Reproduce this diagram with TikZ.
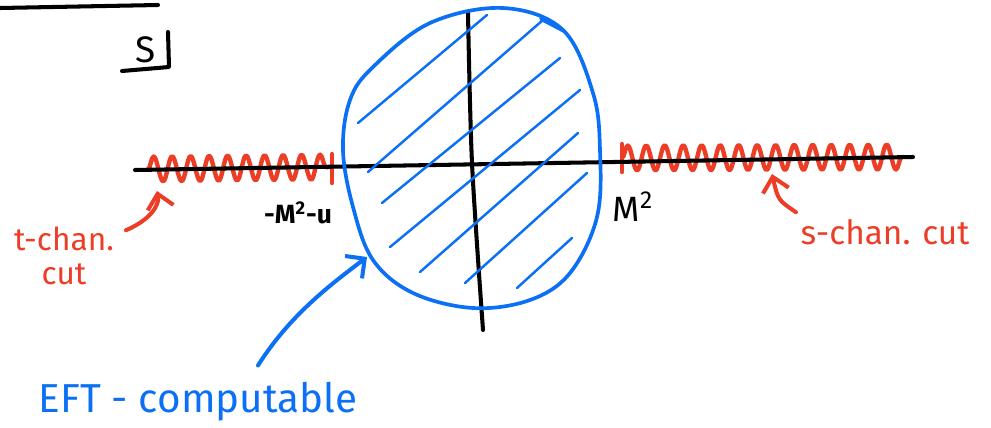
\documentclass[tikz,border=0pt]{standalone}
\usepackage{fontspec}
\setmainfont{Fira Sans}
\usetikzlibrary{arrows.meta,decorations.pathmorphing}
\definecolor{cutred}{RGB}{236,62,38}
\definecolor{eftblue}{RGB}{12,112,244}
\tikzset{
    axis/.style={line width=2.3pt, line cap=round},
    cutwave/.style={cutred, line width=2.5pt, decorate,
        decoration={snake, segment length=0.37cm, amplitude=0.25cm}},
    blob/.style={eftblue, line width=2.1pt},
    hatch/.style={eftblue, line width=1.4pt, line cap=round},
    redarrow/.style={cutred, line width=2.3pt, line cap=round, -{Straight Barb[length=8pt,width=15pt]}},
    bluearrow/.style={eftblue, line width=2.3pt, line cap=round, -{Straight Barb[length=8pt,width=16pt]}},
    lbl/.style={inner sep=1pt}
}
\begin{document}
\begin{tikzpicture}[x=0.02cm, y=-0.02cm, line join=round]
    \useasboundingbox (0,0) rectangle (991,427);
    \draw[axis] (0,8) -- (158,5);
    \node[lbl, font=\fontsize{21}{24}\selectfont] (sname) at (146,50) {S};
    \draw[axis] (168,32) -- (169,67) -- (122,71);
    % cuts on the real axis
    \draw[cutwave] (148,169) -- (332,167);
    \draw[cutred, line width=2.5pt, line cap=round] (332,154) -- (332,183);
    \draw[cutwave] (622,158) -- (903,157);
    \draw[cutred, line width=2.5pt, line cap=round] (622,144) -- (622,172);
    \draw[axis] (135,170) -- (913,157);
    \draw[axis] plot[smooth] coordinates {(468,12) (472,163) (483,330)};
    % EFT region
    \draw[blob] plot[smooth cycle, tension=0.6] coordinates {
        (503,8) (563,30) (593,93) (600,150) (597,217) (570,273) (530,300) (473,308)
        (413,293) (373,260) (353,207) (343,150) (350,100) (373,67) (430,23)};
    \draw[blob, line cap=round] (541,19) -- (564,31);
    \draw[hatch] (358,123) -- (487,15);
    \draw[hatch] (368,172) -- (543,20);
    \draw[hatch] (382,203) -- (560,58);
    \draw[hatch] (390,247) -- (580,90);
    \draw[hatch] (420,272) -- (578,133);
    \draw[hatch] (465,283) -- (587,173);
    \draw[hatch] (517,288) -- (572,238);
    \node[lbl, font=\fontsize{15}{18}\selectfont\bfseries] (lpt) at (298,213) {-M\textsuperscript{2}-u};
    \node[lbl, font=\fontsize{20}{24}\selectfont] (rpt) at (633,207) {M\textsuperscript{2}};
    \node[lbl, cutred, align=center, font=\fontsize{18}{19}\selectfont] (tlab) at (64,256) {t-chan.\\cut};
    \node[lbl, cutred, font=\fontsize{19}{22}\selectfont] (slab) at (885,232) {s-chan. cut};
    \node[lbl, eftblue, font=\fontsize{23}{27}\selectfont] (eft) at (198,402) {EFT - computable};
    \coordinate (ttip) at (157,191);
    \coordinate (stip) at (772,174);
    \coordinate (btip) at (367,257);
    \draw[redarrow] ([xshift=0.2cm,yshift=-0.1cm]tlab.north east) .. controls (150,220) and (160,205) .. (ttip);
    \draw[redarrow] ([xshift=-0.05cm,yshift=0.1cm]slab.north west) .. controls (778,200) .. (stip);
    \draw[bluearrow] ([xshift=1.2cm,yshift=0.3cm]eft.north) .. controls (290,315) and (330,285) .. (btip);
\end{tikzpicture}
\end{document}
